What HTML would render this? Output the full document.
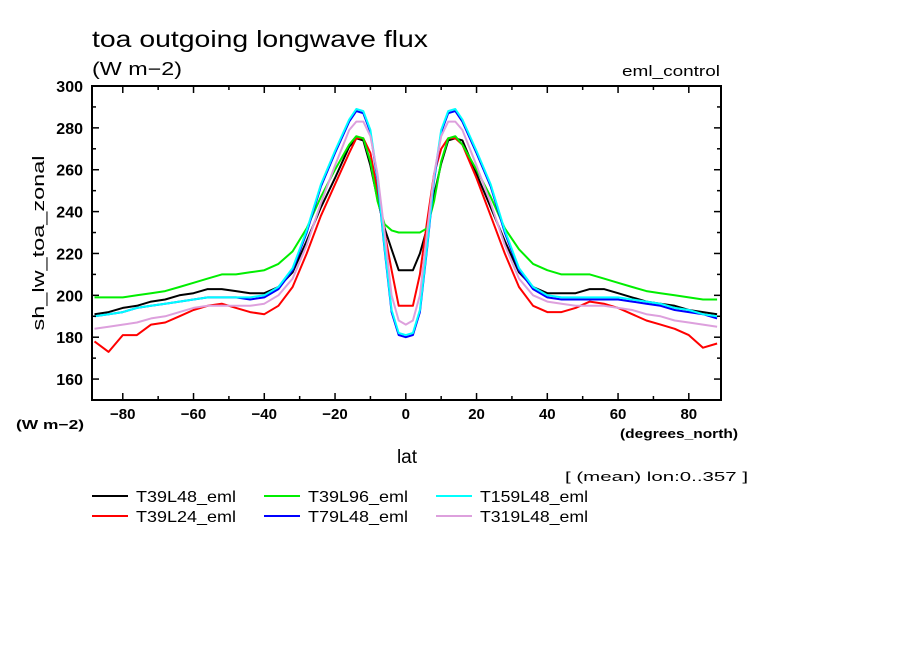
<!DOCTYPE html>
<html><head><meta charset="utf-8"><style>
body{margin:0;background:#fff}
svg{display:block}
text{font-family:"Liberation Sans",sans-serif;fill:#000}
</style></head><body>
<svg id="c" width="904" height="654">
<text x="92" y="47" font-size="23" textLength="336" lengthAdjust="spacingAndGlyphs">toa outgoing longwave flux</text>
<text x="92" y="75" font-size="18" textLength="90" lengthAdjust="spacingAndGlyphs">(W m−2)</text>
<text x="622" y="76" font-size="15" textLength="98" lengthAdjust="spacingAndGlyphs">eml_control</text>
<text x="16" y="429" font-size="13" font-weight="bold" textLength="68" lengthAdjust="spacingAndGlyphs">(W m−2)</text>
<text x="620" y="438" font-size="13" font-weight="bold" textLength="118" lengthAdjust="spacingAndGlyphs">(degrees_north)</text>
<text x="407" y="463" font-size="19" text-anchor="middle">lat</text>
<text x="565" y="481" font-size="13" textLength="183" lengthAdjust="spacingAndGlyphs">[ (mean) lon:0..357 ]</text>
<text transform="translate(44,243) rotate(-90)" font-size="17" text-anchor="middle" textLength="175" lengthAdjust="spacingAndGlyphs">sh_lw_toa_zonal</text>
<g id="plot"></g>
<g id="legend"></g>
</svg>
<script>
const lats=[-88,-84,-80,-76,-72,-68,-64,-60,-56,-52,-48,-44,-40,-36,-32,-28,-24,-20,-16,-14,-12,-10,-8,-6,-4,-2,0,2,4,6,8,10,12,14,16,20,24,28,32,36,40,44,48,52,56,60,64,68,72,76,80,84,88];
const seriesNames=["T39L48_eml","T39L24_eml","T39L96_eml","T79L48_eml","T159L48_eml","T319L48_eml"];
const seriesColors=["#000000","#ff0000","#00ee00","#0000ff","#00ffff","#dda0dd"];
const t39l48=[191,192,194,195,197,198,200,201,203,203,202,201,201,204,211,226,242,256,271,275,274,262,246,232,222,212,212,212,220,232,248,263,274,275,274,258,242,226,211,204,201,201,201,203,203,201,199,197,196,195,193,192,191];
const t39l24=[178,173,181,181,186,187,190,193,195,196,194,192,191,195,204,220,238,253,268,275,275,268,250,230,212,195,195,195,210,235,258,270,275,275,272,256,238,220,204,195,192,192,194,197,196,194,191,188,186,184,181,175,177];
const t39l96=[199,199,199,200,201,202,204,206,208,210,210,211,212,215,221,232,247,260,272,276,275,264,245,234,231,230,230,230,230,232,245,264,275,276,272,260,247,232,222,215,212,210,210,210,208,206,204,202,201,200,199,198,198];
const t79l48=[190,191,192,194,195,196,197,198,199,199,199,198,199,203,212,230,252,268,283,288,287,278,255,222,192,181,180,181,192,222,255,278,287,288,283,268,252,230,212,203,199,198,198,198,198,198,197,196,195,193,192,191,189];
const t159l48=[190,191,192,194,195,196,197,198,199,199,199,199,200,204,213,231,253,269,284,289,288,279,256,223,193,182,181,182,193,223,256,279,288,289,284,269,253,231,213,204,200,199,199,199,199,199,198,197,196,194,193,191,190];
const t319l48=[184,185,186,187,189,190,192,194,195,195,195,195,196,200,208,224,244,262,279,283,283,276,258,230,200,188,186,188,200,230,258,276,283,283,279,262,244,224,208,200,197,196,195,195,195,194,193,191,190,188,187,186,185];
const yTicks=[160,180,200,220,240,260,280,300];
const xTicks=[-80,-60,-40,-20,0,20,40,60,80];
const xTickLabels=["−80","−60","−40","−20","0","20","40","60","80"];
const seriesData=[t39l48,t39l24,t39l96,t79l48,t159l48,t319l48];

const L=92,R=721,T=86,B=400;
const X0=-88.7,X1=89.1,Y0=150,Y1=300;
const xs=v=>L+(v-X0)/(X1-X0)*(R-L);
const ys=v=>B-(v-Y0)/(Y1-Y0)*(B-T);
const NS="http://www.w3.org/2000/svg";
const plot=document.getElementById('plot');
function mk(tag,attrs,parent){const e=document.createElementNS(NS,tag);for(const k in attrs)e.setAttribute(k,attrs[k]);parent.appendChild(e);return e;}

seriesData.forEach((arr,i)=>{
  const d=arr.map((v,j)=>(j?'L':'M')+xs(lats[j]).toFixed(1)+','+ys(v).toFixed(1)).join('');
  const p=mk('path',{d:d,fill:'none',stroke:seriesColors[i],'stroke-width':2,'stroke-linejoin':'round'},plot);
  
  
});
const fr=mk('rect',{x:L,y:T,width:R-L,height:B-T,fill:'none',stroke:'#000','stroke-width':2},plot);


for(let v=Y0;v<=Y1;v+=10){
  const y=ys(v),len=(v%20===0)?7:4;
  mk('line',{x1:L,x2:L+len,y1:y,y2:y,stroke:'#000','stroke-width':1.5},plot);
  mk('line',{x1:R,x2:R-len,y1:y,y2:y,stroke:'#000','stroke-width':1.5},plot);
}
yTicks.forEach(v=>{
  const t=mk('text',{x:83,y:ys(v)+6,'font-size':16,'font-weight':'bold','text-anchor':'end'},plot);
  t.textContent=v;
  
  
});
for(let v=-80;v<=80;v+=10){
  const x=xs(v),len=(v%20===0)?7:4;
  mk('line',{x1:x,x2:x,y1:B,y2:B-len,stroke:'#000','stroke-width':1.5},plot);
  mk('line',{x1:x,x2:x,y1:T,y2:T+len,stroke:'#000','stroke-width':1.5},plot);
}
xTicks.forEach((v,i)=>{
  const t=mk('text',{x:xs(v),y:419,'font-size':15,'font-weight':'bold','text-anchor':'middle'},plot);
  t.textContent=xTickLabels[i];
  
  
});
const lg=document.getElementById('legend');
const order=[0,2,4,1,3,5];
order.forEach((si,k)=>{
  const col=k%3,row=Math.floor(k/3);
  const lx=92+col*172,ly=496+row*20;
  const g=mk('g',{},lg);
  
  
  mk('line',{x1:lx,x2:lx+36,y1:ly,y2:ly,stroke:seriesColors[si],'stroke-width':2},g);
  const t=mk('text',{x:lx+44,y:ly+6,'font-size':16,textLength:(si===4||si===5)?108:100,lengthAdjust:'spacingAndGlyphs'},g);
  t.textContent=seriesNames[si];
});
</script>
</body></html>
